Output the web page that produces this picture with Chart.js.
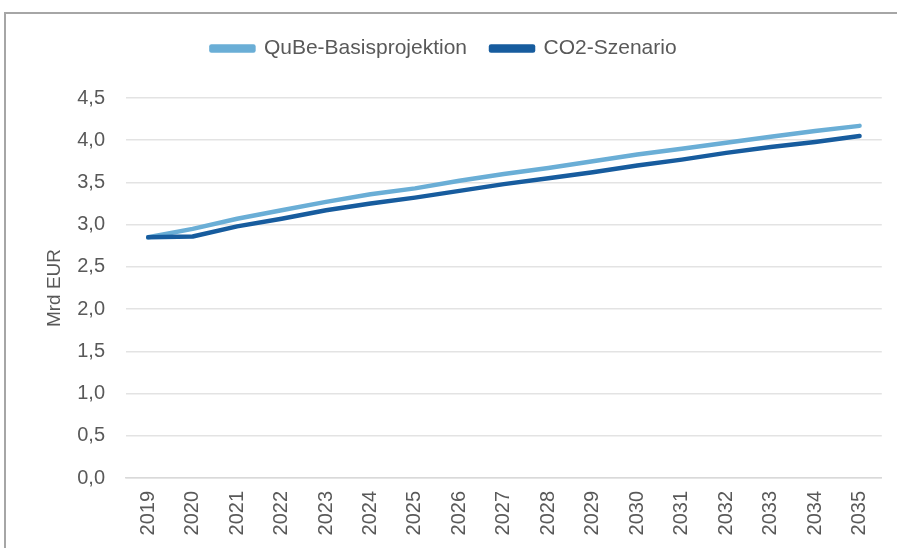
<!DOCTYPE html>
<html>
<head>
<meta charset="utf-8">
<script src="https://cdn.jsdelivr.net/npm/chart.js@4"></script>
<style>
	html, body { margin: 0; padding: 0; background: #fff; overflow: hidden; }
	#frame {
		position: absolute; left: 4px; top: 12px;
		width: 920px; height: 560px;
		border: 2px solid #a6a6a6;
	}
	#wrap { position: absolute; left: 0; top: 0; width: 891px; height: 534px; }
</style>
</head>
<body>
<div id="frame"><div id="wrap"><canvas id="chart"></canvas></div></div>
<script>
const years = ['2019', '2020', '2021', '2022', '2023', '2024', '2025', '2026', '2027',
	'2028', '2029', '2030', '2031', '2032', '2033', '2034', '2035'];
const basisprojektion = [2.85, 2.95, 3.07, 3.17, 3.27, 3.36, 3.43, 3.52, 3.60,
	3.67, 3.75, 3.83, 3.90, 3.97, 4.04, 4.11, 4.17];
const co2Szenario = [2.85, 2.86, 2.98, 3.07, 3.17, 3.25, 3.32, 3.40, 3.48,
	3.55, 3.62, 3.70, 3.77, 3.85, 3.92, 3.98, 4.05];

const textColor = '#595959';
const fontFamily = '"Liberation Sans", Arial, sans-serif';

// stretch the legend box so the plot starts where the reference does
const legendHeight = {
	id: 'legendHeight',
	beforeInit: function (chart) {
		const fit = chart.legend.fit;
		chart.legend.fit = function () {
			fit.bind(chart.legend)();
			this.height = 84;
		};
	},
};

new Chart(document.getElementById('chart'), {
	type: 'line',
	data: {
		labels: years,
		datasets: [
			{
				label: 'QuBe-Basisprojektion',
				data: basisprojektion,
				borderColor: '#6aaed6',
				backgroundColor: '#6aaed6',
				order: 1,
			},
			{
				label: 'CO2-Szenario',
				data: co2Szenario,
				borderColor: '#175c9e',
				backgroundColor: '#175c9e',
				order: 0,
			},
		],
	},
	options: {
		responsive: true,
		maintainAspectRatio: false,
		animation: false,
		layout: { padding: { left: 0, right: 15, top: 0, bottom: 0 } },
		elements: {
			line: { borderWidth: 4.5, tension: 0, borderCapStyle: 'round', borderJoinStyle: 'round' },
			point: { radius: 0 },
		},
		plugins: {
			tooltip: { enabled: false },
			legend: {
				position: 'top',
				labels: {
					boxWidth: 42,
					boxHeight: 4,
					padding: 24,
					color: textColor,
					font: { family: fontFamily, size: 21 },
					sort: (a, b) => a.datasetIndex - b.datasetIndex,
				},
			},
		},
		scales: {
			x: {
				offset: true,
				grid: { display: false, drawTicks: false },
				border: { display: true, color: '#d9d9d9', width: 1.5 },
				ticks: {
					minRotation: 90,
					maxRotation: 90,
					autoSkip: false,
					padding: 13,
					color: textColor,
					font: { family: fontFamily, size: 20 },
				},
				afterFit: function (scale) {
					scale.height = 70;
				},
			},
			y: {
				min: 0,
				max: 4.5,
				border: { display: false },
				grid: { color: '#e3e3e3', lineWidth: 1.5, drawTicks: false },
				ticks: {
					stepSize: 0.5,
					padding: 21,
					color: textColor,
					font: { family: fontFamily, size: 20 },
					callback: (v) => v.toFixed(1).replace('.', ','),
				},
				title: {
					display: true,
					text: 'Mrd EUR',
					color: textColor,
					font: { family: fontFamily, size: 19 },
					padding: { top: 37, bottom: 0 },
				},
				afterFit: function (scale) {
					scale.width = 120;
				},
			},
		},
	},
	plugins: [legendHeight],
});
</script>
</body>
</html>
